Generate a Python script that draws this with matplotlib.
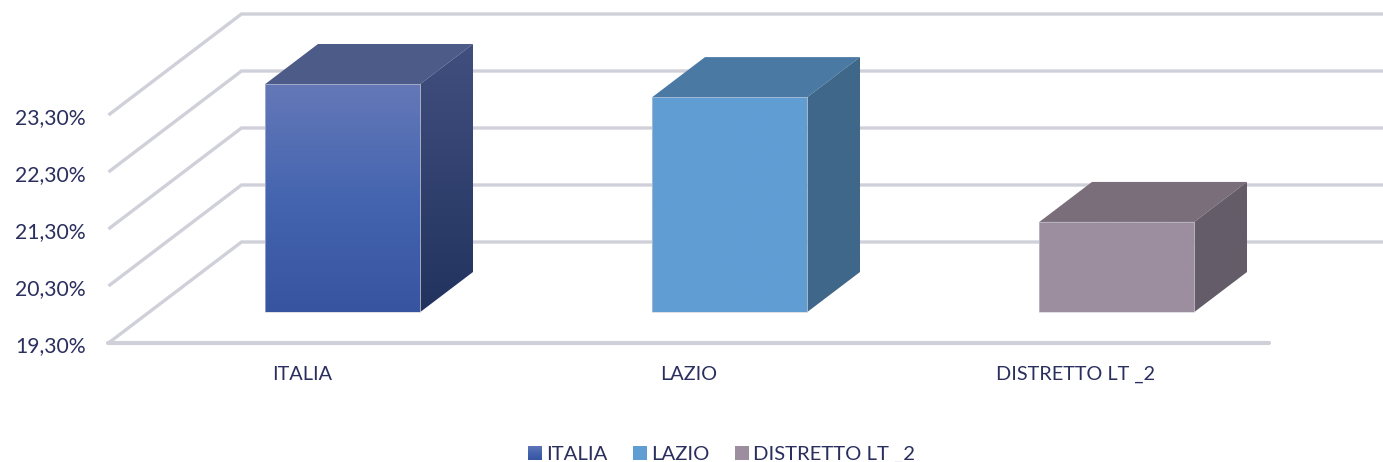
import matplotlib
matplotlib.use('Agg')
import matplotlib.pyplot as plt
from matplotlib.colors import LinearSegmentedColormap
from matplotlib.patches import Patch, Polygon
import numpy as np

# Data
categories = ['ITALIA', 'LAZIO', 'DISTRETTO LT _2']
values = [23.30, 23.07, 20.88]
tick_values = [19.30, 20.30, 21.30, 22.30, 23.30]
tick_labels = ['19,30%', '20,30%', '21,30%', '22,30%', '23,30%']

# Face colours per bar: top to bottom
front_colors = [['#6478B8', '#4565B0', '#3754A0'], ['#5F9DD3', '#5F9DD3'], ['#9C8E9F', '#9C8E9F']]
side_colors = [['#414F7E', '#22335F'], ['#3F6789', '#3F6789'], ['#645C68', '#645C68']]
top_colors = ['#4D5B88', '#4A7AA3', '#7A6E7B']
legend_colors = ['#4565B0', '#5F9DD3', '#9C8E9F']

TEXT_COLOR = '#2A2F5E'
GRID_COLOR = '#D0D0DA'
FONT = 'Lato'

W, H = 1383, 462
PX_X = 387.0   # pixels per category
PX_Y = 57.0    # pixels per axis unit
X0_PX = 302.0  # pixel of category 0
Y0_PX = 343.0  # pixel of the first tick

# floor depth and bar position, in data units
FLOOR_DX = 133 / PX_X
FLOOR_DY = 101 / PX_Y
BAR_D0 = 31 / 101
BAR_D1 = 71 / 101
BAR_WIDTH = 155 / PX_X


def depth(x, y, d):
    return x + FLOOR_DX * d, y + FLOOR_DY * d


def gradient_face(ax, points, colors, zorder):
    # fills a polygon with a vertical gradient
    cmap = LinearSegmentedColormap.from_list('face', colors)
    xs = [p[0] for p in points]
    ys = [p[1] for p in points]
    grad = np.linspace(0, 1, 128).reshape(-1, 1)
    im = ax.imshow(grad, cmap=cmap, aspect='auto', origin='upper', zorder=zorder,
                   extent=(min(xs), max(xs), min(ys), max(ys)))
    clip = Polygon(points, closed=True, transform=ax.transData, facecolor='none', edgecolor='none')
    ax.add_patch(clip)
    im.set_clip_path(clip)


fig = plt.figure(figsize=(W / 100, H / 100), dpi=100)
ax = fig.add_axes([0, 0, 1, 1])
ax.axis('off')

base = tick_values[0]

# Grid: back wall lines and left diagonals
n_cat = len(categories)
for val, label in zip(tick_values, tick_labels):
    bx, by = depth(-0.5, val, 0)
    tx, ty = depth(-0.5, val, 1)
    ex, _ = depth(n_cat - 0.5, val, 1)
    ax.plot([bx, tx, ex], [by, ty, ty], color=GRID_COLOR, lw=2.4, zorder=1,
            solid_joinstyle='miter', solid_capstyle='butt')
    ax.text(-0.5 - 23 / PX_X, val - 3 / PX_Y, label, ha='right', va='center', fontsize=15.2,
            color=TEXT_COLOR, family=FONT)

# Floor front line
ax.plot([-0.5, n_cat - 0.5], [base, base], color=GRID_COLOR, lw=3.0, zorder=1, solid_capstyle='round')

# Bars
for i, val in enumerate(values):
    left = i - BAR_WIDTH / 2
    right = i + BAR_WIDTH / 2
    fl, fb = depth(left, base, BAR_D0)
    fr, _ = depth(right, base, BAR_D0)
    _, ft = depth(left, val, BAR_D0)
    bl, bb = depth(left, base, BAR_D1)
    br, _ = depth(right, base, BAR_D1)
    _, bt = depth(left, val, BAR_D1)

    top_face = [(fl, ft), (fr, ft), (br, bt), (bl, bt)]
    ax.add_patch(Polygon(top_face, closed=True, facecolor=top_colors[i], edgecolor='none', zorder=3))
    gradient_face(ax, [(fr, fb), (fr, ft), (br, bt), (br, bb)], side_colors[i], 3)
    gradient_face(ax, [(fl, fb), (fr, fb), (fr, ft), (fl, ft)], front_colors[i], 4)
    ax.add_patch(Polygon([(fl, fb), (fr, fb), (fr, ft), (fl, ft)], closed=True, facecolor='none',
                         edgecolor='#C9CBD6', lw=0.6, alpha=0.7, zorder=5))

# Category labels
for i, cat in enumerate(categories):
    ax.text(i, base - 31 / PX_Y, cat, ha='center', va='center', fontsize=14.3,
            color=TEXT_COLOR, family=FONT)

xlim = (-X0_PX / PX_X, (W - X0_PX) / PX_X)
ylim = (base - (H - Y0_PX) / PX_Y, base + Y0_PX / PX_Y)
ax.set_xlim(xlim)
ax.set_ylim(ylim)

# Legend
handles = [Patch(facecolor=c, edgecolor='none', label=cat) for c, cat in zip(legend_colors, categories)]
leg = ax.legend(handles=handles, ncol=3, frameon=False, loc='lower center', bbox_to_anchor=(0.5217, -0.042),
                prop={'family': FONT, 'size': 14.6}, labelcolor=TEXT_COLOR, handlelength=0.7, handleheight=0.7,
                handletextpad=0.2, columnspacing=1.25)

# gradient on the first legend swatch
fig.canvas.draw()
box = leg.get_patches()[0].get_window_extent().transformed(ax.transData.inverted())
swatch = [(box.x0, box.y0), (box.x1, box.y0), (box.x1, box.y1), (box.x0, box.y1)]
gradient_face(ax, swatch, front_colors[0], 7)
leg.set_zorder(6)
ax.set_xlim(xlim)
ax.set_ylim(ylim)

fig.savefig('out.png', dpi=100)
plt.close(fig)
